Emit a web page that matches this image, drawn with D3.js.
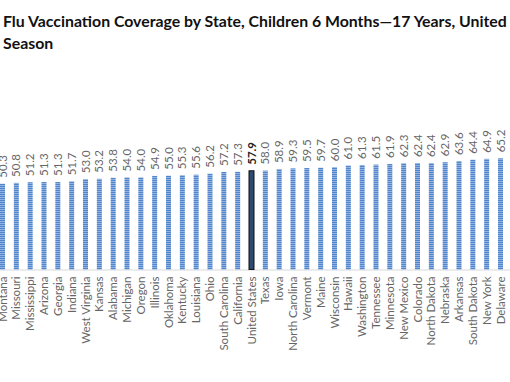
<!DOCTYPE html>
<html><head><meta charset="utf-8">
<script src="https://cdn.jsdelivr.net/npm/d3@7"></script>
<style>html,body{margin:0;padding:0;background:#fff;overflow:hidden}</style>
</head><body>
<svg id="c" width="510" height="382"></svg>
<script>
const titleLines = ["Flu Vaccination Coverage by State, Children 6 Months\u201417 Years, United", "Season"];
const states = ["Montana","Missouri","Mississippi","Arizona","Georgia","Indiana","West Virginia","Kansas","Alabama","Michigan","Oregon","Illinois","Oklahoma","Kentucky","Louisiana","Ohio","South Carolina","California","United States","Texas","Iowa","North Carolina","Vermont","Maine","Wisconsin","Hawaii","Washington","Tennessee","Minnesota","New Mexico","Colorado","North Dakota","Nebraska","Arkansas","South Dakota","New York","Delaware"];
const coverage = [50.3,50.8,51.2,51.3,51.3,51.7,53.0,53.2,53.8,54.0,54.0,54.9,55.0,55.3,55.6,56.2,57.2,57.3,57.9,58.0,58.9,59.3,59.5,59.7,60.0,61.0,61.3,61.5,61.9,62.3,62.4,62.4,62.9,63.6,64.4,64.9,65.2];
const highlight = "United States";

const svg = d3.select("#c");
const font = "Lato, 'Open Sans', sans-serif";

const defs = svg.append("defs");
const pat = defs.append("pattern").attr("id","stripe").attr("patternUnits","userSpaceOnUse")
  .attr("width",4).attr("height",2);
pat.append("rect").attr("width",4).attr("height",2).attr("fill","#93b3e3");
pat.append("rect").attr("width",4).attr("height",1).attr("fill","#5186cc");

const x = d3.scalePoint().domain(states).range([2.5, 500.5]);
const y = d3.scaleLinear().domain([0, 100]).range([269.5, 99]);
const bw = 5;

const t = svg.append("g");
titleLines.forEach((s,i)=>{
  t.append("text").attr("x",3).attr("y",27+i*22).attr("font-family",font)
   .attr("font-weight","bold").attr("font-size",16).attr("fill","#111").text(s);
});
const first = t.select("text").node();
const w = first.getComputedTextLength();
t.selectAll("text").attr("font-size",16*504/w);

svg.append("line").attr("x1",0).attr("x2",510).attr("y1",y(0)+0.5).attr("y2",y(0)+0.5)
  .attr("stroke","#d9d9d9").attr("stroke-width",1);

svg.append("g").selectAll("rect").data(states).join("rect")
  .attr("x", d => x(d) - bw/2)
  .attr("y", (d,i) => y(coverage[i]))
  .attr("width", bw)
  .attr("height", (d,i) => y(0) - y(coverage[i]))
  .attr("fill", d => d===highlight ? "#2d4a70" : "url(#stripe)")
  .attr("stroke", d => d===highlight ? "#111" : "none")
  .attr("stroke-width", 1);

svg.append("g").selectAll("text").data(states).join("text")
  .attr("transform",(d,i)=>`translate(${x(d)},${y(coverage[i]) - 6}) rotate(-90)`)
  .attr("dy","0.35em")
  .attr("font-family",font).attr("font-size",11.5)
  .attr("font-weight", d => d===highlight ? "bold" : "normal")
  .attr("fill", d => d===highlight ? "#222" : "#666")
  .text((d,i)=>coverage[i].toFixed(1));

svg.append("g").selectAll("text").data(states).join("text")
  .attr("transform", d => `translate(${x(d)},${y(0)+7}) rotate(-90)`)
  .attr("dy","0.35em").attr("text-anchor","end")
  .attr("font-family",font).attr("font-size",11.5).attr("fill","#666")
  .text(d=>d);
</script>
</body></html>
